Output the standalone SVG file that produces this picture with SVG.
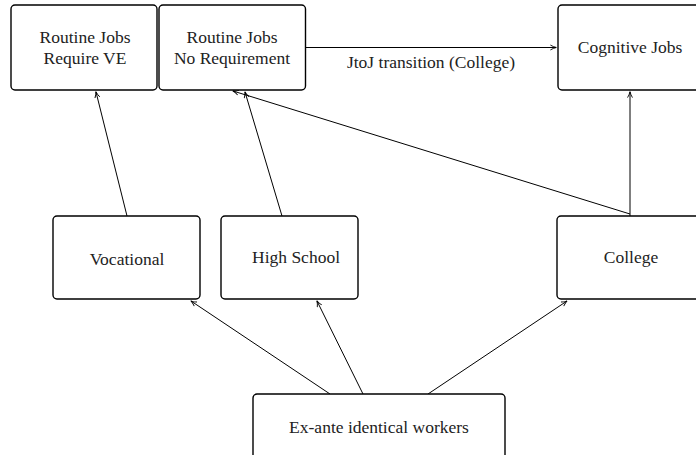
<svg xmlns="http://www.w3.org/2000/svg" width="696" height="455" viewBox="0 0 696 455">
<defs>
<marker id="arr" viewBox="0 0 10 10" refX="9" refY="5" markerWidth="7" markerHeight="7" markerUnits="userSpaceOnUse" orient="auto">
<path d="M1,1.5 Q5,4 9.5,5 Q5,6 1,8.5" fill="none" stroke="#000" stroke-width="1.3"/>
</marker>
<style>
.box{fill:#fff;stroke:#000;stroke-width:1.4}
.t{font-family:'Liberation Serif',Tinos,'Noto Serif','DejaVu Serif',FreeSerif,Times,serif;font-size:17.5px;fill:#222;text-anchor:middle;dominant-baseline:central}
.c{stroke:#000;stroke-width:1;fill:none;marker-end:url(#arr)}
</style>
</defs>
<g id="connectors">
<line class="c" x1="306" y1="47.5" x2="556" y2="47.5"/>
<line class="c" x1="127" y1="216" x2="96" y2="92"/>
<line class="c" x1="282" y1="216" x2="245" y2="92"/>
<line class="c" x1="630" y1="214" x2="233" y2="91"/>
<line class="c" x1="630" y1="216" x2="630" y2="92"/>
<line class="c" x1="330" y1="394" x2="191" y2="301"/>
<line class="c" x1="363" y1="394" x2="317" y2="301"/>
<line class="c" x1="428" y1="394" x2="567" y2="301"/>
</g>
<text class="t" x="431" y="62">JtoJ transition (College)</text>
<g id="routine_ve">
<rect class="box" x="11" y="5" width="146" height="85" rx="4"/>
<text class="t" x="85" y="37">Routine Jobs</text>
<text class="t" x="85" y="58">Require VE</text>
</g>
<g id="routine_nr">
<rect class="box" x="159" y="5" width="146.5" height="85" rx="4"/>
<text class="t" x="232" y="37">Routine Jobs</text>
<text class="t" x="232" y="58">No Requirement</text>
</g>
<g id="cognitive">
<rect class="box" x="558" y="5" width="150" height="85" rx="4"/>
<text class="t" x="630" y="47">Cognitive Jobs</text>
</g>
<g id="vocational">
<rect class="box" x="53" y="216" width="147" height="83" rx="4"/>
<text class="t" x="127" y="259">Vocational</text>
</g>
<g id="highschool">
<rect class="box" x="221" y="216" width="137" height="83" rx="4"/>
<text class="t" x="296" y="257">High School</text>
</g>
<g id="college">
<rect class="box" x="557" y="216" width="150" height="83" rx="4"/>
<text class="t" x="631" y="257">College</text>
</g>
<g id="exante">
<rect class="box" x="253" y="394" width="252" height="70" rx="4"/>
<text class="t" x="379" y="427">Ex-ante identical workers</text>
</g>
</svg>
